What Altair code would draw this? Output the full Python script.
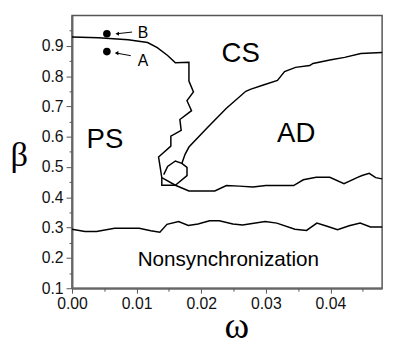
import altair as alt
import pandas as pd

# PS/CS boundary, zigzag, then lower boundary of AD
top_w = [0.0, 0.0041, 0.0087, 0.0117, 0.0132, 0.0148, 0.0160, 0.0181, 0.0181, 0.0188,
         0.0178, 0.0185, 0.0167, 0.0169, 0.0153, 0.0153, 0.0134, 0.0139, 0.0160, 0.0181,
         0.0221, 0.0239, 0.0259, 0.0280, 0.0300, 0.0343, 0.0358, 0.0378, 0.0399, 0.0421,
         0.0442, 0.0449, 0.0460, 0.0470, 0.0480]
top_b = [0.929, 0.927, 0.920, 0.911, 0.894, 0.868, 0.844, 0.846, 0.784, 0.748,
         0.719, 0.686, 0.657, 0.621, 0.602, 0.569, 0.533, 0.465, 0.440, 0.421,
         0.421, 0.439, 0.437, 0.434, 0.439, 0.439, 0.458, 0.466, 0.466, 0.445,
         0.466, 0.472, 0.479, 0.465, 0.461]
# small triangle
tri_w = [0.0139, 0.0139, 0.0160]
tri_b = [0.465, 0.440, 0.440]
# hexagon loop
hex_w = [0.0142, 0.0148, 0.0160, 0.0170, 0.0178, 0.0178, 0.0160]
hex_b = [0.475, 0.502, 0.520, 0.512, 0.499, 0.472, 0.440]
# CS / AD boundary
cs_w = [0.0170, 0.0175, 0.0181, 0.0209, 0.0239, 0.0269, 0.0277, 0.0295, 0.0318, 0.0329,
        0.0346, 0.0368, 0.0373, 0.0401, 0.0422, 0.0447, 0.0480]
cs_b = [0.512, 0.542, 0.566, 0.629, 0.694, 0.750, 0.757, 0.770, 0.786, 0.815,
        0.829, 0.835, 0.842, 0.854, 0.862, 0.875, 0.878]
# Nonsynchronization boundary
ns_w = [0.0, 0.0020, 0.0038, 0.0066, 0.0104, 0.0122, 0.0136, 0.0147, 0.0165, 0.0180,
        0.0195, 0.0213, 0.0228, 0.0249, 0.0264, 0.0299, 0.0317, 0.0345, 0.0363, 0.0379,
        0.0396, 0.0411, 0.0429, 0.0446, 0.0462, 0.0480]
ns_b = [0.295, 0.287, 0.287, 0.298, 0.298, 0.290, 0.285, 0.311, 0.320, 0.307,
        0.312, 0.323, 0.323, 0.312, 0.309, 0.320, 0.315, 0.295, 0.291, 0.315,
        0.304, 0.293, 0.306, 0.315, 0.302, 0.302]

# points A, B
pt_w = [0.0054, 0.0054]
pt_b = [0.940, 0.881]
pt_name = ["B", "A"]
ptlab_w = [0.0110, 0.0110]
ptlab_b = [0.927, 0.835]
arr_w1 = [0.0093, 0.0091]
arr_b1 = [0.9455, 0.8675]
arr_w2 = [0.0070, 0.0069]
arr_b2 = [0.940, 0.876]

# region labels
reg_name = ["PS", "CS", "AD"]
reg_w = [0.0051, 0.0261, 0.0347]
reg_b = [0.564, 0.846, 0.582]
ns_label = ["Nonsynchronization"]
ns_label_w = [0.0242]
ns_label_b = [0.172]

x_major = [0.0, 0.01, 0.02, 0.03, 0.04]
x_minor = [0.005, 0.015, 0.025, 0.035, 0.045]
y_major = [0.1, 0.2, 0.3, 0.4, 0.5, 0.6, 0.7, 0.8, 0.9]
y_minor = [0.15, 0.25, 0.35, 0.45, 0.55, 0.65, 0.75, 0.85, 0.95]

rows = []
for name, ws, bs in [("top", top_w, top_b), ("tri", tri_w, tri_b), ("hex", hex_w, hex_b),
                     ("cs", cs_w, cs_b), ("ns", ns_w, ns_b)]:
    for i, (w, b) in enumerate(zip(ws, bs)):
        rows.append({"seg": name, "i": i, "w": w, "b": b})
lines_df = pd.DataFrame(rows)

pts_df = pd.DataFrame({"w": pt_w, "b": pt_b, "name": pt_name,
                       "lw": ptlab_w, "lb": ptlab_b,
                       "w1": arr_w1, "b1": arr_b1, "w2": arr_w2, "b2": arr_b2})
reg_df = pd.DataFrame({"w": reg_w, "b": reg_b, "name": reg_name})
nsl_df = pd.DataFrame({"w": ns_label_w, "b": ns_label_b, "name": ns_label})

xscale = alt.Scale(domain=[0, 0.048], nice=False, zero=False)
yscale = alt.Scale(domain=[0.1, 1.0], nice=False, zero=False)

axis_common = dict(domainColor="#666", domainWidth=2, tickColor="#555", tickWidth=1,
                   labelFont="Liberation Sans", labelFontSize=16, labelColor="#111",
                   grid=False)

x_axis_major = alt.Axis(values=x_major, format=".2f", tickSize=5, labelPadding=3,
                        orient="bottom", title="ω", titleFont="Liberation Serif",
                        titleFontSize=38, titleFontWeight="normal", titleColor="#000",
                        titleX=167, titleY=50, titleAlign="center",
                        titleBaseline="alphabetic", labelFlush=False, **axis_common)
y_axis_major = alt.Axis(values=y_major, format=".1f", tickSize=6, labelPadding=3,
                        orient="left", title="β", titleFont="Liberation Serif",
                        titleFontSize=35, titleFontWeight="normal", titleColor="#000",
                        titleAngle=0, titleX=-54, titleY=152, titleAlign="center",
                        titleBaseline="alphabetic", **axis_common)
x_axis_minor = alt.Axis(values=x_minor, tickSize=3, labels=False, domain=False,
                        orient="bottom", title=None, tickColor="#555", grid=False)
y_axis_minor = alt.Axis(values=y_minor, tickSize=3, labels=False, domain=False,
                        orient="left", title=None, tickColor="#555", grid=False)

curves = alt.Chart(lines_df).mark_line(color="#000", strokeWidth=1.5).encode(
    x=alt.X("w:Q", scale=xscale, axis=x_axis_major),
    y=alt.Y("b:Q", scale=yscale, axis=y_axis_major),
    detail="seg:N",
    order="i:Q",
)

points = alt.Chart(pts_df).mark_circle(color="#000", size=60, opacity=1).encode(
    x=alt.X("w:Q", scale=xscale, axis=x_axis_minor),
    y=alt.Y("b:Q", scale=yscale, axis=y_axis_minor),
)

arrows = alt.Chart(pts_df).mark_rule(color="#000", strokeWidth=1).encode(
    x=alt.X("w1:Q", scale=xscale, axis=None),
    y=alt.Y("b1:Q", scale=yscale, axis=None),
    x2="w2:Q", y2="b2:Q",
)
heads = alt.Chart(pts_df).mark_point(shape="triangle-left", filled=True, color="#000",
                                     size=18, opacity=1).encode(
    x=alt.X("w2:Q", scale=xscale, axis=None),
    y=alt.Y("b2:Q", scale=yscale, axis=None),
)
ptlabels = alt.Chart(pts_df).mark_text(font="Liberation Sans", fontSize=16, color="#000",
                                       baseline="alphabetic", align="center").encode(
    x=alt.X("lw:Q", scale=xscale, axis=None),
    y=alt.Y("lb:Q", scale=yscale, axis=None),
    text="name:N",
)
regions = alt.Chart(reg_df).mark_text(font="Liberation Sans", fontSize=28, color="#000",
                                      baseline="alphabetic", align="center").encode(
    x=alt.X("w:Q", scale=xscale, axis=None),
    y=alt.Y("b:Q", scale=yscale, axis=None),
    text="name:N",
)
nslabel = alt.Chart(nsl_df).mark_text(font="Liberation Sans", fontSize=21, color="#000",
                                      baseline="alphabetic", align="center").encode(
    x=alt.X("w:Q", scale=xscale, axis=None),
    y=alt.Y("b:Q", scale=yscale, axis=None),
    text="name:N",
)

chart = alt.layer(curves, points, arrows, heads, ptlabels, regions, nslabel).resolve_axis(
    x="independent", y="independent"
).properties(
    width=315, height=277,
    autosize=alt.AutoSizeParams(type="none"),
    padding={"left": 65, "top": 5, "right": 8, "bottom": 56},
    background="#ffffff",
).configure_view(stroke="#555", strokeWidth=1.5)

chart.save("out.html", embed_options={"renderer": "svg", "actions": False})
